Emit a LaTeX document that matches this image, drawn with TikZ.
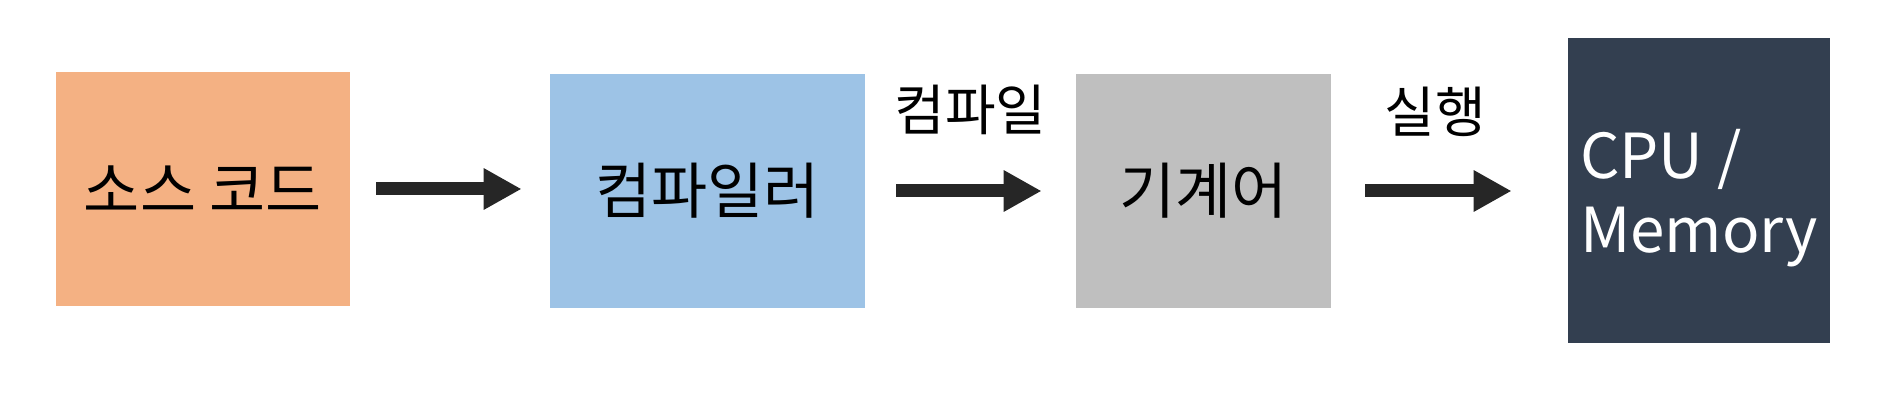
\documentclass[tikz,border=0pt]{standalone}
\usepackage{fontspec}
\setmainfont{Noto Sans CJK KR}
\usetikzlibrary{
  positioning,
  arrows.meta
}
\definecolor{srcorange}{HTML}{F4B183}
\definecolor{compblue}{HTML}{9DC3E6}
\definecolor{machgray}{HTML}{BFBFBF}
\definecolor{cpunavy}{HTML}{333F50}
\definecolor{arrowgray}{HTML}{262626}

\begin{document}
\begin{tikzpicture}[
    x=0.5pt, y=-0.5pt,
    block/.style={
      rectangle,
      draw=none,
      inner sep=0pt,
      align=center,
      font=\fontsize{30.5}{36}\selectfont
    },
    flow/.style={
      draw=arrowgray,
      line width=6.5pt,
      -{Triangle[length=19pt,width=19.5pt]}
    },
    steplabel/.style={
      font=\fontsize{27.5}{32}\selectfont,
      inner sep=0pt
    }
  ]
  \useasboundingbox (0,0) rectangle (1883,400);

  \begin{scope}
    \node[block,fill=srcorange,minimum width=147pt,minimum height=117pt] (src) at (203,189) {소스 코드};
    \node[block,fill=compblue,minimum width=157.5pt,minimum height=117pt] (comp) at (707.5,191) {컴파일러};
    \node[block,fill=machgray,minimum width=127.5pt,minimum height=117pt] (mach) at (1203.5,191) {기계어};
    \node[block,fill=cpunavy,minimum width=131pt,minimum height=152.5pt] (cpu) at (1699,190.5) {};
    \node[text=white,align=left,inner sep=0pt,font=\fontsize{31}{37}\selectfont,
      yshift=-4pt] (cputext) at (cpu) {CPU /\\Memory};

    \draw[flow,shorten <=13pt,shorten >=14pt] (src.east) -- (src.east -| comp.west);
    \draw[flow,shorten <=15.5pt,shorten >=17pt] (comp.east) -- (mach.west)
      node[midway,above=25pt,steplabel] (lblcomp) {컴파일};
    \draw[flow,shorten <=17pt,shorten >=28pt] (mach.east) -- (mach.east -| cpu.west)
      node[midway,above=24pt,steplabel,xshift=-7pt] (lblrun) {실행};
  \end{scope}
\end{tikzpicture}
\end{document}
